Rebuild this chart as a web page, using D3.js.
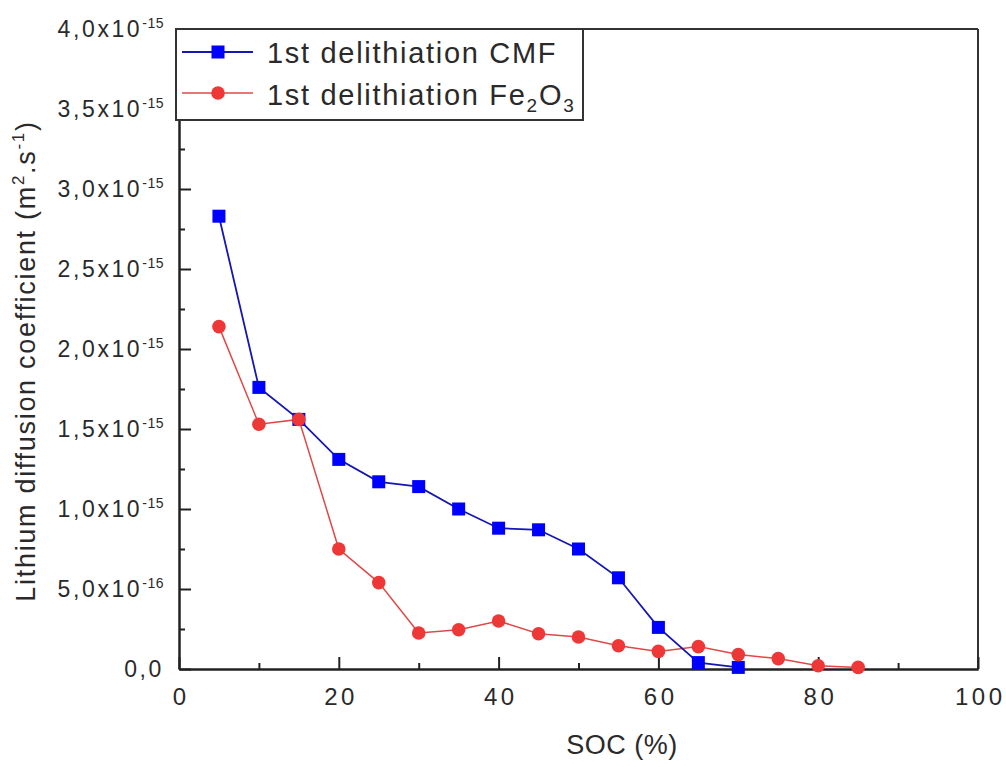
<!DOCTYPE html>
<html>
<head>
<meta charset="utf-8">
<script src="https://cdn.jsdelivr.net/npm/d3@7"></script>
<style>
  html, body { margin: 0; padding: 0; background: #fff; }
  svg { display: block; }
  text { font-family: "Liberation Sans", Arial, sans-serif; fill: #2a2a2a; }
</style>
</head>
<body>
<svg id="chart" width="1006" height="767"></svg>
<script>
// State of charge (%) for each delithiation step
const socCMF = [5, 10, 15, 20, 25, 30, 35, 40, 45, 50, 55, 60, 65, 70];
const diffCMF = [2.83e-15, 1.76e-15, 1.56e-15, 1.31e-15, 1.17e-15, 1.14e-15, 1.00e-15,
                 0.88e-15, 0.87e-15, 0.75e-15, 0.57e-15, 0.26e-15, 0.04e-15, 0.01e-15];

const socFe = [5, 10, 15, 20, 25, 30, 35, 40, 45, 50, 55, 60, 65, 70, 75, 80, 85];
const diffFe = [2.14e-15, 1.53e-15, 1.56e-15, 0.75e-15, 0.54e-15, 0.225e-15, 0.245e-15,
                0.30e-15, 0.22e-15, 0.20e-15, 0.145e-15, 0.11e-15, 0.14e-15, 0.09e-15,
                0.065e-15, 0.02e-15, 0.01e-15];

const xTicks = [0, 20, 40, 60, 80, 100];
const xMinorTicks = [10, 30, 50, 70, 90];
const yTicks = [0, 0.5e-15, 1.0e-15, 1.5e-15, 2.0e-15, 2.5e-15, 3.0e-15, 3.5e-15, 4.0e-15];
const yMinorTicks = [0.25e-15, 0.75e-15, 1.25e-15, 1.75e-15, 2.25e-15, 2.75e-15, 3.25e-15, 3.75e-15];

const seriesNames = ["1st delithiation CMF", "1st delithiation Fe2O3"];

const margin = { left: 179, top: 29, right: 978, bottom: 669 };

const svg = d3.select("#chart");
const x = d3.scaleLinear().domain([0, 100]).range([margin.left, margin.right]);
const y = d3.scaleLinear().domain([0, 4.0e-15]).range([margin.bottom, margin.top]);

// frame: top and right edges without ticks
svg.append("line").attr("x1", margin.left).attr("x2", margin.right)
   .attr("y1", margin.top).attr("y2", margin.top)
   .attr("stroke", "#333").attr("stroke-width", 2);
svg.append("line").attr("x1", margin.right).attr("x2", margin.right)
   .attr("y1", margin.top).attr("y2", margin.bottom)
   .attr("stroke", "#333").attr("stroke-width", 2);

// bottom axis, ticks pointing inward
const gx = svg.append("g").attr("transform", `translate(0,${margin.bottom})`);
gx.call(d3.axisBottom(x).tickValues(xTicks).tickSize(-12).tickSizeOuter(0).tickPadding(19)
        .tickFormat(d => d));
gx.append("g").call(d3.axisBottom(x).tickValues(xMinorTicks).tickSize(-6).tickSizeOuter(0).tickFormat(""));
gx.selectAll("path.domain").attr("stroke", "#222").attr("stroke-width", 2);
gx.selectAll(".tick line").attr("stroke", "#222").attr("stroke-width", 2);
gx.selectAll(".tick text").attr("font-size", 24).attr("fill", "#2a2a2a")
  .attr("letter-spacing", 3.5).attr("dx", 1.75)
  .attr("font-family", "Liberation Sans, Arial, sans-serif");

// left axis, ticks pointing inward
const gy = svg.append("g").attr("transform", `translate(${margin.left},0)`);
gy.call(d3.axisLeft(y).tickValues(yTicks).tickSize(-12).tickSizeOuter(0).tickPadding(16)
        .tickFormat(""));
gy.append("g").call(d3.axisLeft(y).tickValues(yMinorTicks).tickSize(-6).tickSizeOuter(0).tickFormat(""));
gy.selectAll("path.domain").attr("stroke", "#222").attr("stroke-width", 2);
gy.selectAll(".tick line").attr("stroke", "#222").attr("stroke-width", 2);

// y tick labels in "m,nx10^e" notation with a decimal comma
function sciParts(v) {
  if (v === 0) return { mant: "0,0", exp: null };
  let e = Math.floor(Math.log10(v) + 1e-9);
  let m = v / Math.pow(10, e);
  return { mant: m.toFixed(1).replace(".", ",") + "x10", exp: String(e) };
}
yTicks.forEach(v => {
  const p = sciParts(v);
  const t = svg.append("text")
    .attr("x", 164).attr("y", y(v) + 8)
    .attr("text-anchor", "end").attr("font-size", 23).attr("letter-spacing", 2.6);
  t.append("tspan").text(p.mant);
  if (p.exp) {
    t.append("tspan").attr("font-size", 14).attr("letter-spacing", 0.5).attr("dy", -9).text(p.exp);
  }
});

// axis titles
svg.append("text").attr("x", 622).attr("y", 754).attr("text-anchor", "middle")
   .attr("font-size", 27).attr("letter-spacing", 0.5).text("SOC (%)");

const yt = svg.append("text").attr("text-anchor", "middle").attr("font-size", 27)
   .attr("letter-spacing", 1.7)
   .attr("transform", `translate(35,361) rotate(-90)`);
yt.append("tspan").text("Lithium diffusion coefficient (m");
yt.append("tspan").attr("font-size", 17).attr("dy", -11).text("2");
yt.append("tspan").attr("dy", 11).text(".s");
yt.append("tspan").attr("font-size", 17).attr("dy", -11).text("-1");
yt.append("tspan").attr("dy", 11).text(")");

// data series
const line = d3.line().x(d => x(d[0])).y(d => y(d[1]));
const cmfData = socCMF.map((s, i) => [s, diffCMF[i]]);
const feData = socFe.map((s, i) => [s, diffFe[i]]);

const blueLine = "#1616b4", blueFill = "#0000ff";
const redLine = "#e04848", redFill = "#ee3838";

svg.append("path").datum(feData).attr("d", line)
   .attr("fill", "none").attr("stroke", redLine).attr("stroke-width", 1.5);
svg.append("path").datum(cmfData).attr("d", line)
   .attr("fill", "none").attr("stroke", blueLine).attr("stroke-width", 1.8);

svg.append("g").selectAll("rect").data(cmfData).join("rect")
   .attr("x", d => x(d[0]) - 6.5).attr("y", d => y(d[1]) - 6.5)
   .attr("width", 13).attr("height", 13).attr("fill", blueFill);
svg.append("g").selectAll("circle").data(feData).join("circle")
   .attr("cx", d => x(d[0])).attr("cy", d => y(d[1])).attr("r", 6.8)
   .attr("fill", redFill);

// legend
const lg = svg.append("g");
lg.append("rect").attr("x", 176).attr("y", 29).attr("width", 407).attr("height", 91)
  .attr("fill", "#fff").attr("stroke", "#333").attr("stroke-width", 2);
lg.append("line").attr("x1", 182).attr("x2", 253).attr("y1", 52).attr("y2", 52)
  .attr("stroke", blueLine).attr("stroke-width", 1.8);
lg.append("rect").attr("x", 218 - 6.5).attr("y", 52 - 6.5).attr("width", 13).attr("height", 13)
  .attr("fill", blueFill);
lg.append("line").attr("x1", 182).attr("x2", 253).attr("y1", 93).attr("y2", 93)
  .attr("stroke", redLine).attr("stroke-width", 1.5);
lg.append("circle").attr("cx", 218).attr("cy", 93).attr("r", 6.8).attr("fill", redFill);

lg.append("text").attr("x", 267).attr("y", 63).attr("font-size", 29)
  .attr("letter-spacing", 1.7).text(seriesNames[0]);
const l2 = lg.append("text").attr("x", 267).attr("y", 105).attr("font-size", 29)
  .attr("letter-spacing", 1.7);
l2.append("tspan").text("1st delithiation Fe");
l2.append("tspan").attr("font-size", 19).attr("dy", 7).text("2");
l2.append("tspan").attr("dy", -7).text("O");
l2.append("tspan").attr("font-size", 19).attr("dy", 7).text("3");
</script>
</body>
</html>
